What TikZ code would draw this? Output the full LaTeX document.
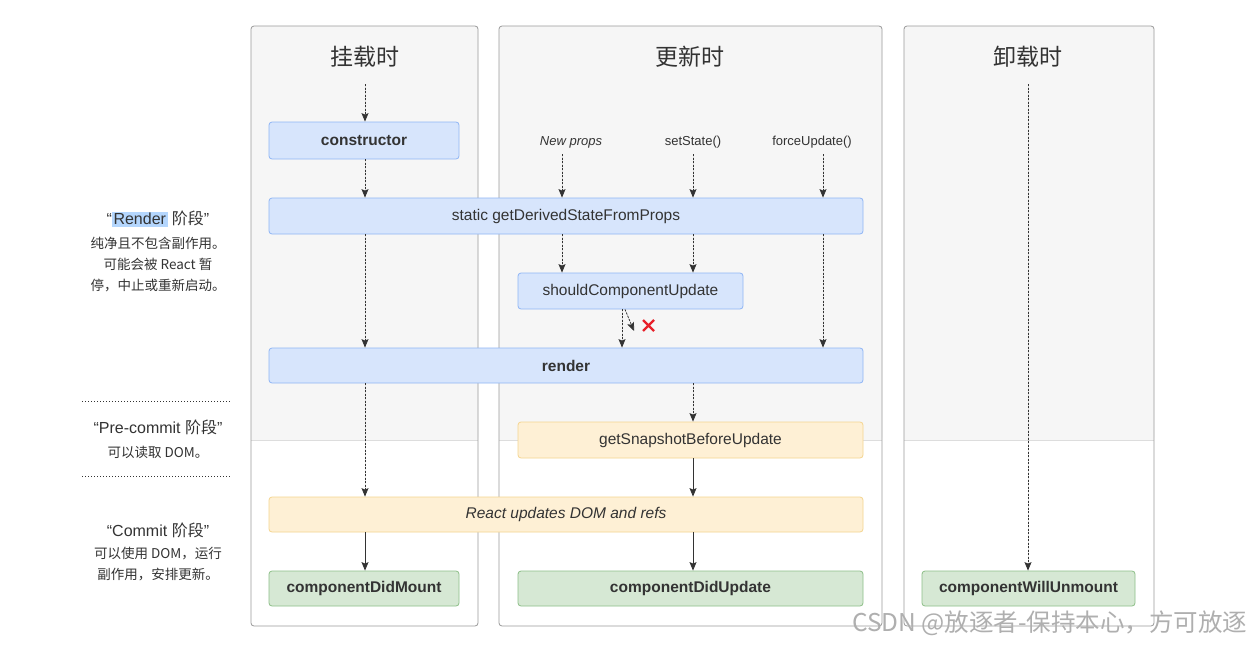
\documentclass[tikz,border=0pt]{standalone}
\usepackage{fontspec}
\setmainfont{Liberation Sans}
\newfontfamily\cjk{Noto Sans CJK SC}
\usetikzlibrary{arrows.meta}
\definecolor{txt}{HTML}{333333}
\definecolor{bfill}{HTML}{D7E5FC}
\definecolor{bdraw}{HTML}{8FB5F5}
\definecolor{yfill}{HTML}{FEF0D5}
\definecolor{ydraw}{HTML}{F5D590}
\definecolor{gfill}{HTML}{D6E8D4}
\definecolor{gdraw}{HTML}{8DBF88}
\definecolor{panelbg}{HTML}{F6F6F6}
\definecolor{paneldraw}{HTML}{999999}
\definecolor{sepline}{HTML}{DDDDDD}
\definecolor{hl}{HTML}{B4D6FD}
\definecolor{xred}{HTML}{E8202A}
\definecolor{wm}{HTML}{AFAFAF}
\begin{document}
\begin{tikzpicture}[x=1pt,y=-1pt,
  box/.style={draw, rounded corners=3pt, line width=0.8pt, inner sep=0pt, text=txt, font=\fontsize{15.5}{18}\selectfont},
  bluebox/.style={box, fill=bfill, draw=bdraw},
  yelbox/.style={box, fill=yfill, draw=ydraw},
  grnbox/.style={box, fill=gfill, draw=gdraw},
  panel/.style={draw=paneldraw, line width=0.8pt, rounded corners=3pt},
  title/.style={text=txt, font=\cjk\fontsize{23}{26}\selectfont},
  trig/.style={text=txt, font=\fontsize{13}{16}\selectfont},
  phase/.style={text=txt, align=center, font=\fontsize{16}{20}\selectfont},
  note/.style={text=txt, align=center, font=\cjk\fontsize{13.5}{21}\selectfont},
  tip/.style={-{Stealth[length=8.5pt,width=7pt,inset=1.5pt]}},
  darr/.style={draw=txt, fill=txt, line width=0.75pt, dash pattern=on 2pt off 1.5pt, tip},
  sarr/.style={draw=txt, fill=txt, line width=0.85pt, tip}
]
\useasboundingbox (0,0) rectangle (1254,645);
\fill[white] (0,0) rectangle (1254,645);

% panels
\foreach \xa/\xb in {251/478, 499/882, 904/1154}{
  \fill[panelbg, rounded corners=3pt] (\xa,26) rectangle (\xb,440);
  \fill[panelbg] (\xa,400) rectangle (\xb,440);
  \draw[sepline, line width=0.8pt] (\xa,440) -- (\xb,440);
  \draw[panel] (\xa,26) rectangle (\xb,626);
}

% titles
\node[title] (t1) at (365,57) {挂载时};
\node[title] (t2) at (690,57) {更新时};
\node[title] (t3) at (1028,57) {卸载时};

% nodes
\node[bluebox, minimum width=190pt, minimum height=37pt] (ctor) at (364,140.5) {\bfseries constructor};
\node[bluebox, minimum width=594pt, minimum height=36pt] (gdsfp) at (566,216) {static getDerivedStateFromProps};
\node[bluebox, minimum width=225pt, minimum height=36pt] (scu) at (630.5,291) {shouldComponentUpdate};
\node[bluebox, minimum width=594pt, minimum height=35pt] (render) at (566,365.5) {\bfseries render};
\node[yelbox, minimum width=345pt, minimum height=36pt] (gsbu) at (690.5,440) {getSnapshotBeforeUpdate};
\node[yelbox, minimum width=594pt, minimum height=35pt] (rud) at (566,514.5) {\itshape React updates DOM and refs};
\node[grnbox, minimum width=190pt, minimum height=35pt] (cdm) at (364,588.5) {\bfseries componentDidMount};
\node[grnbox, minimum width=345pt, minimum height=35pt] (cdu) at (690.5,588.5) {\bfseries componentDidUpdate};
\node[grnbox, minimum width=213pt, minimum height=35pt] (cwu) at (1028.5,588.5) {\bfseries componentWillUnmount};

% triggers
\node[trig] (np) at (571,142) {\itshape New props};
\node[trig] (ss) at (693,142) {setState()};
\node[trig] (fu) at (812,142) {forceUpdate()};

\coordinate (m0) at (365,84);
\coordinate (u0) at (1028,84);
\coordinate (a1) at (562,154);
\coordinate (a2) at (693,154);
\coordinate (a3) at (823,154);
\coordinate (mx) at (365,300);

% mount column
\draw[darr] (m0) -- (m0 |- ctor.north);
\draw[darr] (ctor.south -| mx) -- (mx |- gdsfp.north);
\draw[darr] (gdsfp.south -| mx) -- (mx |- render.north);
\draw[darr] (render.south -| mx) -- (mx |- rud.north);
\draw[sarr] (rud.south -| mx) -- (mx |- cdm.north);

% update column
\draw[darr] (a1) -- (a1 |- gdsfp.north);
\draw[darr] (a2) -- (a2 |- gdsfp.north);
\draw[darr] (a3) -- (a3 |- gdsfp.north);
\draw[darr] (gdsfp.south -| a1) -- (a1 |- scu.north);
\draw[darr] (gdsfp.south -| a2) -- (a2 |- scu.north);
\draw[darr] (gdsfp.south -| a3) -- (a3 |- render.north);
\coordinate (s1) at (622,300);
\draw[darr] (scu.south -| s1) -- (s1 |- render.north);
\coordinate (s2) at (625,300);
\coordinate (s3) at (634,331);
\draw[darr] (scu.south -| s2) -- (s3);
\draw[xred, line width=2.2pt] (643,320) -- (654,331) (643,331) -- (654,320);
\draw[darr] (render.south -| a2) -- (a2 |- gsbu.north);
\draw[sarr] (gsbu.south -| a2) -- (a2 |- rud.north);
\draw[sarr] (rud.south -| a2) -- (a2 |- cdu.north);

% unmount column
\draw[darr] (u0) -- (u0 |- cwu.north);

% left phase notes
\node[phase] (ph1) at (158,219) {“{\setlength{\fboxsep}{1.5pt}\colorbox{hl}{Render}} {\cjk 阶段}”};
\node[note, anchor=north] (n1) at (158,234) {纯净且不包含副作用。\\可能会被 React 暂\\停，中止或重新启动。};
\coordinate (d1a) at (82,401);
\coordinate (d1b) at (230,401);
\draw[txt, line width=1pt, dotted] (d1a) -- (d1b);
\node[phase] (ph2) at (158,427) {“Pre-commit {\cjk 阶段}”};
\node[note] (n2) at (158,452) {可以读取 DOM。};
\coordinate (d2a) at (82,476);
\coordinate (d2b) at (230,476);
\draw[txt, line width=1pt, dotted] (d2a) -- (d2b);
\node[phase] (ph3) at (158,530) {“Commit {\cjk 阶段}”};
\node[note, anchor=north] (n3) at (158,544) {可以使用 DOM，运行\\副作用，安排更新。};

% watermark
\node[text=wm, font=\cjk\fontsize{24.5}{27}\selectfont, anchor=east] (wmk) at (1251,623) {CSDN @放逐者-保持本心，方可放逐};
\end{tikzpicture}
\end{document}
